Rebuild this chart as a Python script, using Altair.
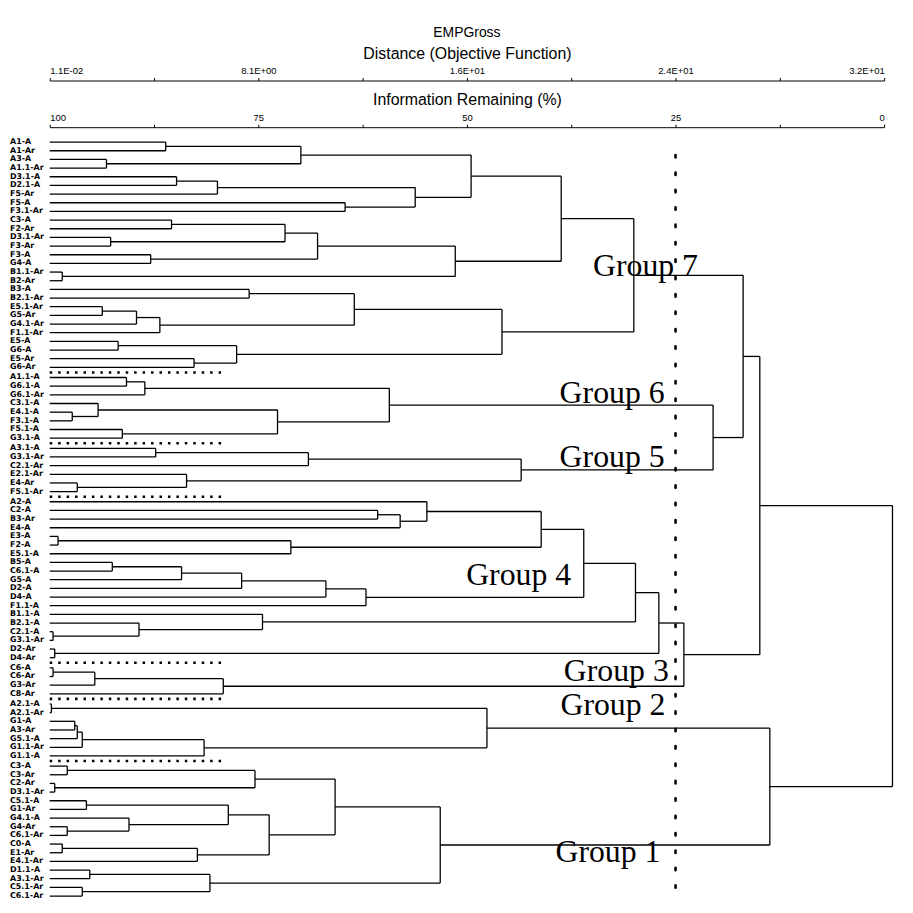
import altair as alt
import pandas as pd

# ---------------- data ----------------
leaf_labels = [
    "A1-A", "A1-Ar", "A3-A", "A1.1-Ar", "D3.1-A", "D2.1-A", "F5-Ar", "F5-A", "F3.1-Ar",
    "C3-A", "F2-Ar", "D3.1-Ar", "F3-Ar", "F3-A", "G4-A", "B1.1-Ar", "B2-Ar", "B3-A",
    "B2.1-Ar", "E5.1-Ar", "G5-Ar", "G4.1-Ar", "F1.1-Ar", "E5-A", "G6-A", "E5-Ar", "G6-Ar",
    "A1.1-A", "G6.1-A", "G6.1-Ar", "C3.1-A", "E4.1-A", "F3.1-A", "F5.1-A", "G3.1-A",
    "A3.1-A", "G3.1-Ar", "C2.1-Ar", "E2.1-Ar", "E4-Ar", "F5.1-Ar",
    "A2-A", "C2-A", "B3-Ar", "E4-A", "E3-A", "F2-A", "E5.1-A", "B5-A", "C6.1-A", "G5-A",
    "D2-A", "D4-A", "F1.1-A", "B1.1-A", "B2.1-A", "C2.1-A", "G3.1-Ar", "D2-Ar", "D4-Ar",
    "C6-A", "C6-Ar", "G3-Ar", "C8-Ar",
    "A2.1-A", "A2.1-Ar", "G1-A", "A3-Ar", "G5.1-A", "G1.1-Ar", "G1.1-A",
    "C3-A", "C3-Ar", "C2-Ar", "D3.1-Ar", "C5.1-A", "G1-Ar", "G4.1-A", "G4-Ar", "C6.1-Ar",
    "C0-A", "E1-Ar", "E4.1-Ar", "D1.1-A", "A3.1-Ar", "C5.1-Ar", "C6.1-Ar",
]

# merges: node name, left child, right child, information remaining (%) at the join
merge_names = [
    "A", "B", "C", "D", "E", "F", "G", "H", "I", "J", "K", "L", "M", "N", "O",
    "P", "Q", "R", "S", "T", "U", "V", "W", "Y", "X", "Z",
    "a", "b", "c1", "c", "d", "e", "f",
    "t1", "t2", "t3", "t4", "t5", "g56", "g567",
    "n1", "n2", "n3", "n4", "n5", "n6", "m1", "m2", "m3", "m4", "m5",
    "p1", "p2", "p3", "dd", "g4a", "g4b", "g4c",
    "q1", "q2", "q3", "g34", "g3_7",
    "aa", "r1", "r2", "r3", "r4", "g2",
    "s1a", "s1b", "s1", "s2a", "s2b", "s2c", "s2", "s3a", "s3", "s4", "s5",
    "s6a", "s6b", "s6", "g1", "g12", "root",
]
merge_left = [
    0, 2, "A", 4, "D", 7, "E", "C", 9, 11, "I", 13, "K", 15, "M",
    17, 19, "Q", "R", "P", 23, 25, "U", "H", "T", "Y",
    27, "a", 31, 30, 33, "c", "b",
    35, "t1", 39, 38, "t2", "f", "Z",
    42, "n1", 41, 45, "n4", "n3", 48, "m1", "m2", "m3", "m4",
    56, 55, 54, 58, "n6", "g4a", "g4b",
    60, "q1", "q2", "g4c", "g567",
    64, 66, "r1", "r2", "r3", "aa",
    71, 73, "s1a", 75, 78, 77, "s2a", 80, "s3a", "s2", "s1",
    83, 85, "s6a", "s5", "g2", "g3_7",
]
merge_right = [
    1, 3, "B", 5, 6, 8, "F", "G", 10, 12, "J", 14, "L", 16, "N",
    18, 20, 21, 22, "S", 24, 26, "V", "O", "W", "X",
    28, 29, 32, "c1", 34, "d", "e",
    36, 37, 40, "t3", "t4", "t5", "g56",
    43, 44, "n2", 46, 47, "n5", 49, 50, 51, 52, 53,
    57, "p1", "p2", 59, "m5", "p3", "dd",
    61, 62, 63, "q3", "g34",
    65, 67, 68, 69, 70, "r4",
    72, 74, "s1b", 76, 79, "s2b", "s2c", 81, 82, "s3", "s4",
    84, 86, "s6b", "s6", "g1", "g12",
]
merge_info = [
    86.1, 93.2, 69.9, 84.8, 79.9, 64.6, 56.2, 49.5, 85.4, 92.7, 71.8, 87.9, 67.9, 98.5, 51.4,
    76.1, 93.7, 89.6, 86.8, 63.5, 91.8, 82.7, 77.6, 38.7, 45.8, 30.0,
    90.8, 88.6, 97.3, 94.2, 91.3, 72.7, 59.3,
    87.3, 69.0, 96.7, 83.6, 43.5, 20.5, 16.9,
    60.7, 58.0, 54.8, 99.0, 71.1, 41.1, 92.5, 84.2, 77.0, 66.9, 62.1,
    99.6, 89.3, 74.5, 99.4, 36.0, 29.8, 27.0,
    99.6, 94.6, 79.2, 24.0, 14.9,
    99.8, 97.0, 96.7, 96.1, 81.5, 47.6,
    97.9, 99.4, 75.4, 95.6, 97.9, 90.5, 78.6, 98.5, 82.3, 73.7, 65.8,
    95.2, 96.1, 80.8, 53.2, 13.7, -1.0,
]

# dotted separators sit after these leaf indices
group_separators = [26, 34, 40, 59, 63, 70]
cut_level = 25.0

info_ticks = [100, 87.5, 75, 62.5, 50, 37.5, 25, 12.5, 0]
info_tick_labels = ["100", "", "75", "", "50", "", "25", "", "0"]
dist_tick_labels = ["1.1E-02", "", "8.1E+00", "", "1.6E+01", "", "2.4E+01", "", "3.2E+01"]

group_names = ["Group 7", "Group 6", "Group 5", "Group 4", "Group 3", "Group 2", "Group 1"]
group_info = [28.6, 32.6, 32.6, 43.8, 32.1, 32.5, 33.1]
group_row = [14.3, 29.0, 36.4, 50.0, 61.0, 65.0, 82.0]

# ---------------- layout helpers ----------------
SEP_GAP = 0.17  # extra row space taken by each dotted separator


def row_of(i):
    return i + SEP_GAP * sum(1 for s in group_separators if s < i)


# ---------------- build dendrogram segments ----------------
pos = {i: (row_of(i), 100.0) for i in range(len(leaf_labels))}
segs = []
for name, l, r, h in zip(merge_names, merge_left, merge_right, merge_info):
    yl, xl = pos[l]
    yr, xr = pos[r]
    segs.append(dict(x=xl, x2=h, y=yl, y2=yl))
    segs.append(dict(x=xr, x2=h, y=yr, y2=yr))
    segs.append(dict(x=h, x2=h, y=yl, y2=yr))
    pos[name] = ((yl + yr) / 2.0, h)
seg_df = pd.DataFrame(segs)

leaf_df = pd.DataFrame({"row": [row_of(i) for i in range(len(leaf_labels))],
                        "label": leaf_labels})
sep_rows = [row_of(s) + 0.5 + SEP_GAP / 2 for s in group_separators]
sep_df = pd.DataFrame({"row": sep_rows, "x": [100.0] * len(sep_rows),
                       "x2": [79.0] * len(sep_rows)})
last_row = row_of(len(leaf_labels) - 1)
cut_df = pd.DataFrame({"info": [cut_level], "y": [1.5], "y2": [last_row + 0.5]})
grp_df = pd.DataFrame({"name": group_names, "info": group_info, "row": group_row})

# ---------------- scales ----------------
W, H = 840, 779
first_px, last_px = 15.0, 774.0
span = last_row * H / (last_px - first_px)
d0 = -first_px * span / H
yscale = alt.Scale(domain=[d0, d0 + span], reverse=True, nice=False, zero=False)
xscale = alt.Scale(domain=[0, 100], reverse=True, nice=False, zero=False)


def label_expr(vals, labs):
    parts = [f"datum.value == {v} ? '{t}'" for v, t in zip(vals, labs)]
    return " : ".join(parts) + " : ''"


axis_common = dict(
    orient="top", values=info_ticks, grid=False, domainColor="black", tickColor="black",
    tickSize=3, labelFont="Liberation Sans", labelFontSize=9.5, labelColor="black",
    labelPadding=2, titleFont="Liberation Sans", titleFontSize=16,
    titleFontWeight="normal", titleColor="black", labelAngle=0,
)

info_axis = alt.Axis(title="Information Remaining (%)",
                     labelExpr=label_expr(info_ticks, info_tick_labels),
                     titlePadding=5, **axis_common)
dist_axis = alt.Axis(title="Distance (Objective Function)",
                     labelExpr=label_expr(info_ticks, dist_tick_labels),
                     offset=47, titlePadding=4, **axis_common)

tree = alt.Chart(seg_df).mark_rule(color="black", strokeWidth=1.3).encode(
    x=alt.X("x:Q", scale=xscale, axis=info_axis),
    x2="x2:Q",
    y=alt.Y("y:Q", scale=yscale, axis=None),
    y2="y2:Q",
)

cut = alt.Chart(cut_df).mark_rule(color="black", strokeWidth=2.6,
                                  strokeDash=[2.5, 15], strokeCap="round").encode(
    x=alt.X("info:Q", scale=xscale, axis=dist_axis),
    y=alt.Y("y:Q", scale=yscale, axis=None),
    y2="y2:Q",
)

seps = alt.Chart(sep_df).mark_rule(color="black", strokeWidth=2.6,
                                   strokeDash=[2.5, 6]).encode(
    x=alt.X("x:Q", scale=xscale, axis=None),
    x2="x2:Q",
    y=alt.Y("row:Q", scale=yscale, axis=None),
)

leaves = alt.Chart(leaf_df).mark_text(align="left", baseline="middle", font="DejaVu Sans",
                                      fontSize=8, fontWeight="bold", color="black").encode(
    x=alt.value(-40),
    y=alt.Y("row:Q", scale=yscale, axis=None),
    text="label:N",
)

groups = alt.Chart(grp_df).mark_text(align="center", baseline="middle",
                                     font="Liberation Serif", fontSize=32,
                                     color="black").encode(
    x=alt.X("info:Q", scale=xscale, axis=None),
    y=alt.Y("row:Q", scale=yscale, axis=None),
    text="name:N",
)

chart = alt.layer(tree, cut, seps, leaves, groups).resolve_axis(x="independent").properties(
    width=W, height=H,
    background="white",
    title=alt.TitleParams("EMPGross", font="Liberation Sans", fontSize=14,
                          fontWeight="normal", color="black", offset=6),
    autosize=alt.AutoSizeParams(type="none"),
    padding={"left": 42, "top": 117, "right": 21, "bottom": 0},
).configure_view(stroke="transparent", strokeWidth=0)

chart.save("out.html", embed_options={"renderer": "svg", "actions": False})
